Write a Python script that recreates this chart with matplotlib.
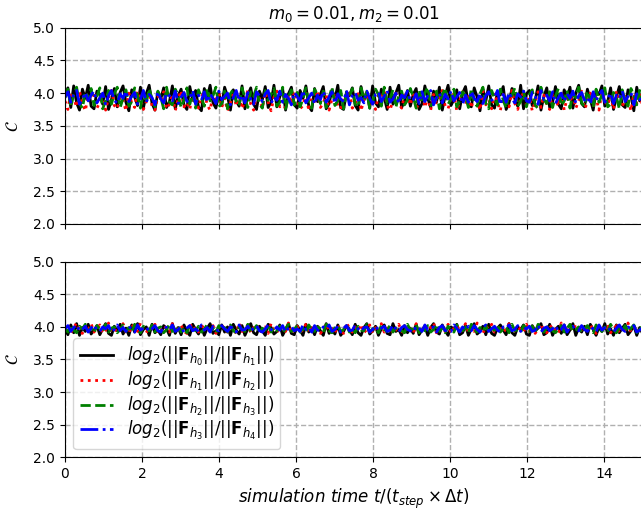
"""plot.py

Razão de convergência C ao longo do tempo de simulação para m0 = 0.01, m2 = 0.01.
Dois painéis com o mesmo eixo de tempo, salvo em out.png.
"""

import numpy as np
import matplotlib
matplotlib.use("Agg")
import matplotlib.pyplot as plt

t_max = 15.0

# Valores de C em centésimos (painel superior)
top_black = [
	395, 408, 378, 411, 385, 374, 406, 392, 412, 380, 376, 403, 398, 383, 410, 375, 390, 407, 379, 401,
	411, 386, 373, 405, 394, 381, 409, 377, 399, 412, 384, 374, 402, 391, 408, 378, 387, 411, 376, 396,
	406, 382, 375, 410, 389, 404, 379, 373, 407, 393, 412, 385, 377, 400, 381, 409, 395, 374, 405, 388,
	380, 411, 376, 397, 408, 383, 375, 403, 390, 410, 378, 386, 412, 379, 394, 406, 374, 399, 409, 382,
	377, 404, 392, 411, 380, 373, 407, 387, 398, 410, 376, 384, 405, 391, 412, 378, 375, 402, 396, 408,
	381, 374, 410, 389, 401, 377, 411, 385, 379, 406, 393, 375, 409, 383, 400, 412, 378, 388, 404, 380,
	398, 407, 375, 384, 411, 392, 378, 403, 386, 409, 374, 396, 412, 381, 390, 405, 376, 400, 410, 383,
	379, 408, 394, 373, 406, 388, 411, 382, 377, 402, 397, 410, 375, 385, 407, 391, 380, 412, 376, 399,
	404, 381, 389, 411, 374, 395, 408, 378, 386, 410, 383, 376, 405, 393, 409, 377, 400, 412, 384, 379,
	406, 390, 374, 403, 398, 411, 380, 387, 408, 375, 394, 410, 382, 378, 405, 396, 373, 409, 388, 401,
]
top_red = [
	388, 375, 401, 392, 379, 403, 384, 373, 397, 390, 402, 377, 386, 399, 374, 393, 404, 381, 376, 395,
	389, 373, 400, 385, 378, 403, 391, 375, 387, 401, 380, 374, 396, 388, 402, 376, 383, 398, 373, 392,
	404, 379, 386, 375, 400, 390, 377, 394, 403, 382, 374, 397, 387, 401, 378, 392, 373, 385, 402, 380,
	395, 376, 389, 404, 383, 374, 399, 391, 377, 401, 386, 373, 394, 403, 379, 388, 375, 398, 384, 402,
	390, 376, 381, 400, 373, 393, 387, 404, 378, 385, 397, 374, 391, 401, 380, 376, 395, 388, 403, 377,
	383, 399, 373, 390, 402, 379, 386, 375, 396, 392, 404, 381, 374, 389, 400, 384, 377, 397, 393, 382,
	401, 375, 387, 403, 378, 394, 374, 398, 385, 391, 404, 380, 376, 392, 399, 373, 388, 402, 383, 395,
	377, 396, 389, 374, 403, 382, 390, 376, 400, 386, 373, 398, 393, 379, 404, 384, 375, 391, 401, 381,
	394, 373, 387, 402, 378, 397, 383, 375, 401, 390, 380, 404, 374, 392, 386, 399, 377, 388, 403, 376,
	385, 400, 379, 393, 374, 402, 389, 381, 396, 375, 403, 387, 378, 395, 391, 373, 399, 384, 401, 380,
]
top_green = [
	393, 406, 379, 398, 409, 384, 377, 402, 390, 407, 381, 395, 408, 376, 388, 404, 383, 399, 409, 378,
	392, 405, 380, 387, 408, 396, 377, 401, 385, 407, 391, 379, 403, 394, 376, 409, 386, 382, 406, 397,
	378, 390, 408, 383, 400, 377, 405, 393, 380, 407, 388, 396, 409, 379, 384, 403, 376, 399, 406, 387,
	381, 408, 392, 378, 402, 395, 409, 383, 377, 404, 389, 398, 407, 380, 386, 409, 376, 394, 405, 382,
	401, 379, 391, 408, 385, 377, 406, 397, 384, 403, 378, 393, 409, 381, 388, 404, 376, 400, 395, 407,
	383, 379, 408, 390, 402, 377, 386, 406, 398, 380, 409, 384, 392, 405, 378, 396, 403, 382, 389, 407,
	394, 377, 405, 387, 400, 409, 381, 385, 403, 376, 397, 408, 383, 391, 406, 379, 388, 402, 395, 378,
	407, 386, 380, 399, 409, 384, 376, 404, 392, 382, 406, 389, 377, 401, 396, 408, 380, 387, 403, 379,
	398, 405, 382, 376, 409, 390, 384, 402, 378, 395, 407, 381, 388, 404, 377, 400, 393, 409, 385, 380,
	403, 391, 378, 406, 386, 397, 408, 379, 383, 401, 394, 376, 405, 389, 380, 407, 396, 382, 404, 387,
]
top_blue = [
	394, 402, 386, 398, 404, 383, 391, 401, 388, 397, 403, 385, 393, 400, 382, 396, 404, 389, 384, 399,
	392, 403, 387, 395, 401, 383, 390, 404, 386, 398, 393, 382, 402, 391, 385, 400, 396, 388, 403, 384,
	394, 401, 387, 392, 404, 383, 397, 389, 402, 386, 399, 392, 384, 403, 390, 395, 400, 382, 393, 404,
	388, 397, 385, 401, 391, 383, 402, 396, 387, 399, 404, 384, 394, 389, 403, 386, 398, 392, 382, 401,
	395, 388, 404, 385, 393, 400, 383, 397, 390, 403, 386, 394, 402, 384, 399, 391, 387, 404, 382, 396,
	401, 389, 393, 385, 403, 392, 383, 398, 402, 387, 395, 404, 386, 391, 400, 384, 397, 393, 403, 388,
	390, 399, 384, 402, 387, 396, 404, 382, 393, 400, 385, 398, 391, 403, 388, 394, 401, 383, 397, 386,
	403, 392, 387, 400, 384, 396, 402, 389, 393, 404, 382, 398, 386, 401, 391, 385, 399, 394, 403, 388,
	386, 401, 395, 383, 404, 390, 397, 388, 402, 384, 393, 400, 387, 399, 392, 403, 385, 396, 401, 389,
	394, 383, 402, 388, 398, 404, 386, 391, 400, 384, 397, 392, 403, 387, 395, 401, 382, 399, 390, 396,
]

# Valores de C em centésimos (painel inferior)
bot_black = [
	396, 388, 403, 391, 405, 387, 399, 393, 404, 389, 395, 402, 388, 397, 405, 390, 387, 401, 394, 404,
	389, 398, 387, 403, 392, 405, 388, 396, 400, 387, 404, 391, 395, 388, 402, 397, 387, 405, 390, 399,
	388, 403, 393, 387, 404, 396, 389, 401, 387, 398, 405, 390, 394, 388, 403, 392, 400, 387, 404, 395,
	389, 402, 387, 397, 405, 391, 388, 401, 394, 387, 404, 399, 389, 393, 403, 387, 396, 405, 390, 388,
	402, 395, 387, 404, 392, 398, 388, 401, 394, 387, 405, 390, 397, 389, 403, 387, 393, 402, 396, 388,
	404, 391, 387, 399, 405, 389, 394, 401, 387, 397, 403, 390, 388, 405, 393, 396, 387, 402, 391, 398,
	390, 404, 388, 395, 401, 387, 399, 405, 392, 389, 403, 394, 387, 400, 396, 404, 388, 391, 402, 387,
	397, 405, 389, 393, 401, 388, 404, 390, 387, 398, 403, 395, 388, 405, 391, 387, 400, 396, 403, 389,
	387, 402, 394, 398, 405, 388, 391, 404, 387, 396, 401, 390, 403, 388, 395, 405, 387, 399, 392, 401,
	388, 404, 396, 387, 400, 393, 405, 389, 397, 387, 403, 391, 398, 404, 388, 394, 402, 387, 399, 390,
]
bot_red = [
	397, 404, 391, 399, 406, 393, 390, 402, 396, 405, 392, 398, 403, 390, 395, 406, 394, 391, 401, 397,
	405, 392, 390, 403, 399, 393, 406, 395, 391, 400, 396, 404, 390, 394, 402, 398, 392, 405, 391, 397,
	403, 393, 390, 406, 395, 400, 392, 398, 404, 391, 396, 402, 390, 399, 405, 394, 392, 401, 397, 390,
	406, 393, 395, 403, 391, 399, 404, 392, 396, 400, 390, 405, 394, 391, 402, 397, 393, 406, 390, 398,
	401, 392, 395, 404, 391, 399, 394, 403, 390, 396, 405, 393, 397, 391, 402, 395, 390, 406, 398, 392,
	400, 394, 404, 391, 396, 403, 390, 399, 393, 405, 392, 397, 401, 390, 395, 404, 393, 391, 402, 396,
	390, 405, 397, 392, 403, 394, 399, 406, 391, 396, 400, 393, 404, 390, 398, 402, 392, 395, 405, 391,
	399, 393, 406, 396, 390, 401, 397, 404, 392, 395, 403, 391, 398, 405, 390, 394, 400, 396, 392, 404,
	393, 402, 390, 397, 405, 394, 391, 399, 403, 396, 390, 406, 392, 398, 401, 394, 404, 391, 396, 400,
	392, 404, 395, 390, 403, 398, 393, 405, 391, 397, 402, 390, 399, 394, 406, 392, 396, 401, 390, 397,
]
bot_green = [
	398, 392, 403, 395, 391, 401, 397, 404, 393, 399, 391, 402, 396, 394, 404, 392, 398, 400, 391, 396,
	403, 393, 399, 392, 404, 395, 391, 401, 397, 394, 403, 392, 398, 400, 391, 396, 404, 393, 395, 402,
	392, 399, 391, 403, 397, 394, 401, 392, 396, 404, 393, 398, 391, 402, 395, 399, 392, 403, 394, 391,
	400, 397, 393, 404, 392, 396, 402, 391, 398, 395, 403, 392, 399, 394, 401, 391, 397, 404, 393, 396,
	402, 392, 398, 391, 403, 395, 393, 400, 397, 392, 404, 394, 391, 399, 402, 393, 396, 403, 392, 398,
	391, 401, 395, 394, 404, 392, 397, 399, 391, 402, 396, 393, 403, 392, 398, 400, 394, 391, 404, 395,
	397, 403, 391, 399, 394, 402, 392, 396, 404, 393, 398, 391, 401, 395, 392, 403, 397, 394, 400, 391,
	404, 396, 392, 399, 393, 402, 391, 398, 395, 403, 392, 397, 400, 391, 404, 394, 396, 392, 402, 398,
	393, 401, 391, 404, 396, 392, 399, 403, 394, 391, 397, 402, 392, 398, 404, 393, 395, 400, 391, 397,
	402, 394, 391, 403, 397, 393, 400, 392, 404, 396, 391, 399, 394, 402, 392, 398, 403, 391, 396, 401,
]
bot_blue = [
	397, 402, 393, 399, 403, 394, 396, 401, 392, 398, 403, 395, 393, 400, 397, 402, 392, 396, 403, 394,
	399, 393, 401, 396, 392, 403, 395, 398, 400, 393, 397, 402, 394, 392, 401, 399, 395, 403, 393, 396,
	400, 392, 398, 402, 394, 397, 393, 403, 395, 399, 392, 401, 396, 394, 402, 397, 393, 400, 398, 392,
	403, 395, 396, 401, 393, 399, 402, 394, 392, 397, 403, 396, 393, 400, 395, 402, 392, 398, 401, 394,
	397, 393, 403, 396, 399, 392, 402, 395, 394, 400, 397, 403, 393, 396, 401, 392, 398, 402, 394, 395,
	403, 397, 393, 399, 400, 392, 396, 402, 394, 398, 401, 393, 395, 403, 397, 392, 399, 402, 396, 394,
	392, 401, 398, 393, 403, 395, 397, 400, 392, 399, 402, 394, 396, 393, 403, 398, 392, 400, 395, 401,
	394, 402, 396, 392, 399, 403, 393, 397, 401, 395, 392, 400, 398, 403, 394, 396, 402, 393, 399, 397,
	401, 393, 395, 403, 392, 398, 400, 394, 397, 402, 393, 396, 403, 392, 399, 401, 395, 394, 402, 396,
	393, 400, 397, 392, 403, 395, 399, 401, 394, 392, 398, 403, 396, 393, 400, 397, 402, 392, 395, 399,
]

labels = [
	r'$log_2(||\mathbf{F}_{h_0}||/||\mathbf{F}_{h_1}||)$',
	r'$log_2(||\mathbf{F}_{h_1}||/||\mathbf{F}_{h_2}||)$',
	r'$log_2(||\mathbf{F}_{h_2}||/||\mathbf{F}_{h_3}||)$',
	r'$log_2(||\mathbf{F}_{h_3}||/||\mathbf{F}_{h_4}||)$',
]
yticks = [2.0, 2.5, 3.0, 3.5, 4.0, 4.5, 5.0]
xticks = [0, 2, 4, 6, 8, 10, 12, 14]


def plot_panel(ax, series, lw=2.0):
	"""Desenha as quatro curvas de C num painel."""
	styles = [('k', '-'), ('r', ':'), ('g', '--'), ('b', '-.')]
	for vals, (c, ls), lab in zip(series, styles, labels):
		c_vals = np.asarray(vals) / 100.0
		t = np.linspace(0, t_max, len(c_vals))
		ax.plot(t, c_vals, color=c, linestyle=ls, linewidth=lw, label=lab)
	ax.set_xlim(0, t_max)
	ax.set_ylim(2.0, 5.0)
	ax.set_yticks(yticks)
	ax.set_xticks(xticks)
	ax.grid(True, linestyle='--', color='#b0b0b0', linewidth=1.0)
	ax.set_ylabel(r'$\mathcal{C}$', fontsize=12, labelpad=8)


def main():
	fig = plt.figure(figsize=(6.41, 5.13), dpi=100)
	ax1 = fig.add_axes([0.1014, 0.5634, 0.901, 0.3827])
	ax2 = fig.add_axes([0.1014, 0.1086, 0.901, 0.3813], sharex=ax1)

	plot_panel(ax1, [top_black, top_red, top_green, top_blue])
	plot_panel(ax2, [bot_black, bot_red, bot_green, bot_blue])

	plt.setp(ax1.get_xticklabels(), visible=False)
	ax1.set_title(r'$m_0 = 0.01, m_2 = 0.01$', fontsize=12)
	ax2.set_xlabel(r'$simulation\ time\ t/(t_{step}\times\Delta t)$', fontsize=12)
	ax2.legend(loc='lower left', fontsize=12, labelspacing=0.1)

	fig.savefig('out.png', dpi=100)
	plt.close(fig)


if __name__ == '__main__':
	main()
